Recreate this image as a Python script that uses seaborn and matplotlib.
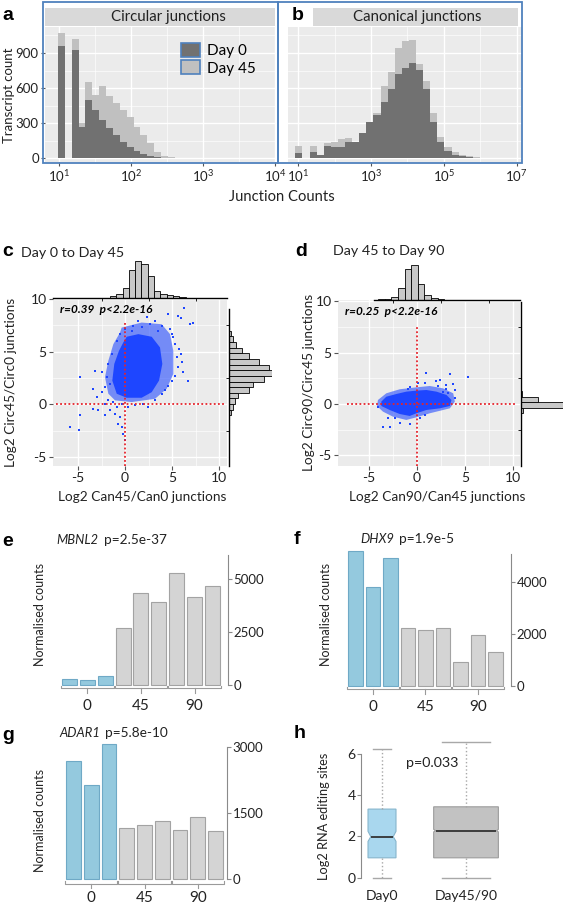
import numpy as np
import pandas as pd
import seaborn as sns
import matplotlib.pyplot as plt
from matplotlib.patches import Patch, Rectangle
from matplotlib.path import Path
from matplotlib.ticker import FixedLocator, NullFormatter

# ---------------- data ----------------
# a / b : junction count histograms (bins in log10 space)
circ_edge0, circ_binw = 0.99, 0.0953
circ_day0 = [960, 0, 925, 271, 499, 414, 328, 263, 200, 143, 101, 64, 36, 21, 10, 0, 0]
circ_day45 = [1068, 0, 1019, 305, 650, 542, 618, 536, 471, 414, 357, 271, 200, 130, 58, 24, 10]

canon_edge0, canon_binw = 0.92, 0.195
canon_day0 = [43, 0, 56, 28, 107, 99, 99, 142, 140, 214, 308, 375, 478, 597, 725, 773, 819,
              753, 597, 312, 142, 65, 34, 22, 11, 4, 1]
canon_day45 = [107, 0, 107, 34, 128, 142, 165, 171, 142, 218, 312, 392, 617, 734, 943, 1000,
               1009, 810, 659, 392, 184, 99, 56, 34, 20, 11, 4]

# c : Day 0 -> Day 45 scatter (dense core outline, halo outline, sparse points)
c_core_x = [0.18, 1.42, 2.84, 3.72, 3.97, 3.62, 2.84, 1.77, 0.18, -0.88, -1.35, -1.14, -0.64, -0.18]
c_core_y = [6.42, 6.67, 6.42, 5.41, 3.84, 2.26, 1.16, 0.63, 0.63, 1.01, 2.26, 3.84, 5.09, 5.88]
c_halo_x = [-0.36, 1.77, 3.90, 4.79, 5.14, 5.14, 4.43, 3.19, 0.71, -1.06, -1.77, -2.13, -1.77, -1.24, -0.53]
c_halo_y = [7.29, 7.77, 7.61, 6.67, 5.09, 2.89, 1.48, 0.53, 0.22, 0.38, 1.01, 2.58, 4.15, 5.72, 6.82]
c_pts_x = [6.31, 5.67, 5.96, 6.91, 7.23, 4.61, 3.19, 2.66, 1.84, 0.89, 0.71, 3.90, 4.79, 4.96, 3.55,
           5.14, 5.32, 5.74, 5.96, 5.50, 6.03, 5.67, 6.20, 5.32, 6.74, 4.96, 4.61, 4.26, 3.90, 3.19,
           2.48, 1.95, 1.06, 0.35, -0.36, -1.24, -1.77, -2.13, -2.48, -3.37, -3.02, -3.37, -2.84,
           -4.79, -4.79, -5.85, -4.89, -1.06, -0.53, -0.71, -0.36, -0.18, 0.0, -1.60, -2.13, -0.89,
           -3.19, -2.48, -1.95, -1.77, -1.60, -2.13, -1.42, -0.89, -0.53, 0.0, 1.42, 2.31]
c_pts_y = [9.12, 8.39, 8.17, 7.61, 7.77, 8.55, 7.92, 7.61, 7.36, 7.45, 6.98, 7.45, 7.14, 6.67, 6.98,
           6.35, 5.72, 5.25, 4.78, 4.46, 3.99, 3.52, 3.05, 2.73, 2.26, 2.26, 1.79, 1.32, 1.01, 0.38,
           -0.25, 0.06, -0.10, -0.25, 0.06, 0.22, 0.38, 0.06, 1.16, 1.48, 0.69, -0.41, -0.57,
           -1.04, 2.64, -2.14, -2.45, -0.88, -1.20, -1.82, -2.14, -2.77, -3.40, -0.57, -1.04, -0.25,
           3.21, 3.05, 2.58, 3.84, 1.95, 1.63, 4.78, 6.04, 6.67, 7.14, 7.92, 8.30]
c_top_edge0, c_top_binw = -1.6, 0.67
c_top_counts = [50, 130, 300, 830, 1100, 1000, 650, 200, 130, 100, 60, 30]
c_right_edge0, c_right_binw = -1.04, 0.535
c_right_counts = [50, 120, 170, 270, 600, 720, 1020, 1270, 1170, 900, 600, 370, 200, 120, 50]

# d : Day 45 -> Day 90 scatter
d_core_x = [-3.68, -3.16, -2.12, -1.08, -0.03, 1.01, 2.05, 3.09, 3.61, 3.44, 2.40, 1.01, -0.03,
            -0.73, -1.77, -2.81, -3.68]
d_core_y = [0.23, 0.71, 0.97, 1.20, 1.30, 1.36, 1.20, 0.88, 0.39, -0.19, -0.42, -0.58, -0.90,
            -1.16, -0.97, -0.58, -0.19]
d_halo_x = [-4.03, -3.16, -1.77, -0.03, 1.36, 2.74, 3.79, 3.96, 3.44, 1.36, -0.03, -1.08, -2.47, -3.51, -4.13]
d_halo_y = [0.39, 1.04, 1.43, 1.62, 1.75, 1.52, 1.04, 0.23, -0.42, -0.90, -1.29, -1.55, -1.23, -0.74, -0.19]
d_pts_x = [1.01, 3.44, 5.35, 2.40, 2.05, 3.79, 3.09, 2.22, 0.83, 0.14, -0.73, -0.90, 3.09, 3.96,
           2.74, -3.51, -2.81, -1.77, -0.73, -2.99, -2.29, -4.03, 3.96, 0.31, 0.83, 3.26]
d_pts_y = [3.05, 2.92, 2.66, 2.33, 2.27, 1.91, 1.85, 1.75, 2.07, 2.01, 1.62, 1.43, 1.43, 1.36,
           1.20, -2.20, -2.20, -1.87, -1.94, -1.39, -1.39, -0.26, 0.55, -1.39, -1.07, 1.07]
d_top_edge0, d_top_binw = -4.03, 0.69
d_top_counts = [20, 40, 80, 340, 880, 1000, 470, 140, 50, 20, 10, 5]
d_right_edge0, d_right_binw = -0.91, 0.54
d_right_counts = [50, 1000, 410, 25]

# e / f / g : normalised counts per sample
day_levels = ['0', '45', '90']
sample_day = ['0'] * 3 + ['45'] * 3 + ['90'] * 3
sample_ids = [f'{d}_{i}' for d, i in zip(sample_day, [1, 2, 3] * 3)]
mbnl2 = [283, 236, 424, 2690, 4340, 3915, 5280, 4150, 4670]
dhx9 = [5190, 3810, 4920, 2230, 2150, 2230, 935, 1960, 1310]
adar1 = [2680, 2140, 3070, 1160, 1230, 1320, 1110, 1410, 1090]

# h : RNA editing sites box summaries
h_groups = ['Day0', 'Day45/90']
h_whislo = [0.0, 0.0]
h_q1 = [0.97, 0.97]
h_med = [1.99, 2.28]
h_q3 = [3.32, 3.43]
h_whishi = [6.2, 6.55]
h_cilo = [1.76, 2.22]
h_cihi = [2.25, 2.34]

# ---------------- style ----------------
plt.rcParams['font.family'] = ['Lato', 'DejaVu Sans']
plt.rcParams['axes.unicode_minus'] = False
W, H = 567, 907
fig = plt.figure(figsize=(W / 100, H / 100), dpi=100)

dark_col, light_col = '#717171', '#c0c0c0'
frame_blue = '#4f81bd'
pt_blue = '#1e46ff'
red = '#e5232b'
bar_blue, bar_grey = '#87ceeb', '#d4d4d4'
txt = '#222222'


def rect(l, t, r, b):
    return [l / W, 1 - b / H, (r - l) / W, (b - t) / H]


def ftext(x, y, s, **kw):
    kw.setdefault('color', txt)
    return fig.text(x / W, 1 - y / H, s, **kw)


def edges_from(start, width, n):
    return np.round(start + width * np.arange(n + 1), 4)


def ggplot_bg(ax):
    ax.set_facecolor('#ebebeb')
    ax.set_axisbelow(True)
    ax.grid(which='major', color='white', lw=1.0)
    ax.grid(which='minor', color='white', lw=0.45)
    for s in ax.spines.values():
        s.set_visible(False)
    ax.tick_params(which='minor', length=0)
    ax.tick_params(which='major', length=3, color='#555555', labelsize=9.5, labelcolor=txt, pad=1.5)


# ---------------- a / b ----------------
def junction_hist(ax, start, width, light, dark, xlim):
    e = edges_from(start, width, len(light))
    df = pd.DataFrame({'junctions': 10 ** ((e[:-1] + e[1:]) / 2), 'light': light, 'dark': dark})
    sns.histplot(data=df, x='junctions', weights='light', bins=e.tolist(), log_scale=True,
                 color=light_col, alpha=1, linewidth=0, ax=ax)
    sns.histplot(data=df, x='junctions', weights='dark', bins=e.tolist(), log_scale=True,
                 color=dark_col, alpha=1, linewidth=0, ax=ax)
    ggplot_bg(ax)
    ax.set_xlim(10 ** xlim[0], 10 ** xlim[1])
    ax.set_ylim(-30, 1122)
    ax.set_yticks([0, 300, 600, 900])
    ax.yaxis.set_minor_locator(FixedLocator([150, 450, 750, 1050]))
    ax.set_xlabel('')
    ax.set_ylabel('')


ax_a = fig.add_axes(rect(45, 27, 275, 162))
junction_hist(ax_a, circ_edge0, circ_binw, circ_day45, circ_day0, (0.81, 3.99))
ax_a.set_xticks([1e1, 1e2, 1e3, 1e4])
ax_a.xaxis.set_minor_locator(FixedLocator(10 ** np.array([1.5, 2.5, 3.5])))
ax_a.xaxis.set_minor_formatter(NullFormatter())
ax_a.legend(handles=[Patch(facecolor=dark_col, edgecolor=frame_blue, lw=1.2, label='Day 0'),
                     Patch(facecolor=light_col, edgecolor=frame_blue, lw=1.2, label='Day 45')],
            loc='upper left', bbox_to_anchor=(0.56, 0.94), frameon=False, fontsize=11,
            handlelength=1.2, handleheight=1.05, labelspacing=0.15, handletextpad=0.5,
            borderpad=0)

ax_b = fig.add_axes(rect(288, 27, 522, 162))
junction_hist(ax_b, canon_edge0, canon_binw, canon_day45, canon_day0, (0.717, 7.146))
ax_b.set_xticks([1e1, 1e3, 1e5, 1e7])
ax_b.xaxis.set_minor_locator(FixedLocator([1e2, 1e4, 1e6]))
ax_b.xaxis.set_minor_formatter(NullFormatter())
ax_b.tick_params(axis='y', left=False, labelleft=False)

for (l, r, lab, cx) in [(45, 275, 'Circular junctions', 168), (313, 518, 'Canonical junctions', 417)]:
    sax = fig.add_axes(rect(l, 8, r, 26))
    sax.set_facecolor('#d9d9d9')
    sax.set_xticks([])
    sax.set_yticks([])
    for s in sax.spines.values():
        s.set_visible(False)
    ftext(cx, 17, lab, ha='center', va='center', fontsize=10.8)

fig.add_artist(Rectangle((43 / W, 1 - 163 / H), 235 / W, 161 / H, transform=fig.transFigure,
                         fill=False, edgecolor=frame_blue, lw=1.3))
fig.add_artist(Rectangle((278 / W, 1 - 163 / H), 244 / W, 161 / H, transform=fig.transFigure,
                         fill=False, edgecolor=frame_blue, lw=1.3))
ftext(282, 197, 'Junction Counts', ha='center', va='center', fontsize=10.6)
ftext(9, 95, 'Transcript count', ha='center', va='center', rotation=90, fontsize=9.5)
ftext(2, 15, 'a', fontsize=14, weight='bold', va='center', family='Liberation Sans', color='black')
ftext(292, 15, 'b', fontsize=14, weight='bold', va='center', family='Liberation Sans', color='black',
      bbox=dict(facecolor='white', edgecolor='none', pad=1))


# ---------------- c / d ----------------
def scatter_panel(main_px, top_px, right_px, xlim, ylim, core, halo, pts, top, right,
                  vline_top, hline_x, right_spine_top, top_bounds, rtext):
    ax = fig.add_axes(rect(*main_px))
    ax.fill(halo[0], halo[1], color=pt_blue, alpha=0.58, lw=0, zorder=2)
    ax.fill(core[0], core[1], color=pt_blue, lw=0, zorder=3)
    sns.scatterplot(x=pts[0], y=pts[1], marker='s', s=2.2, color=pt_blue, linewidth=0, ax=ax, zorder=3)
    ax.vlines(0, ylim[0], vline_top, colors=red, linestyles=(0, (1, 1.3)), lw=1.3, zorder=4)
    ax.hlines(0, hline_x[0], hline_x[1], colors=red, linestyles=(0, (1, 1.3)), lw=1.3, zorder=4)
    ggplot_bg(ax)
    ax.set_xticks([-5, 0, 5, 10])
    ax.set_yticks([-5, 0, 5, 10])
    ax.xaxis.set_minor_locator(FixedLocator([-2.5, 2.5, 7.5]))
    ax.yaxis.set_minor_locator(FixedLocator([-2.5, 2.5, 7.5]))
    ax.tick_params(labelsize=10)
    ax.text(0.04, 0.93, rtext, transform=ax.transAxes, fontsize=8.5, weight='bold',
            style='italic', va='center', color='black')

    e = edges_from(top[0], top[1], len(top[2]))
    axt = fig.add_axes(rect(*top_px), sharex=ax)
    sns.histplot(x=(e[:-1] + e[1:]) / 2, weights=top[2], bins=e.tolist(), color='#c8c8c8',
                 edgecolor='black', linewidth=0.6, alpha=1, ax=axt)
    axt.set_ylim(0, max(top[2]))
    e = edges_from(right[0], right[1], len(right[2]))
    axr = fig.add_axes(rect(*right_px), sharey=ax)
    sns.histplot(y=(e[:-1] + e[1:]) / 2, weights=right[2], bins=e.tolist(), color='#c8c8c8',
                 edgecolor='black', linewidth=0.6, alpha=1, ax=axr)
    axr.set_xlim(0, max(right[2]))
    for m in (axt, axr):
        m.set_facecolor('none')
        m.set_xlabel('')
        m.set_ylabel('')
        m.tick_params(left=False, bottom=False, labelleft=False, labelbottom=False)
        for s in m.spines.values():
            s.set_visible(False)
    axt.spines['bottom'].set_visible(True)
    axt.spines['bottom'].set_linewidth(1.0)
    axt.spines['bottom'].set_bounds(*top_bounds)
    axr.spines['left'].set_visible(True)
    axr.spines['left'].set_linewidth(1.0)
    axr.spines['left'].set_bounds(ylim[0], right_spine_top)
    ax.set_xlim(*xlim)
    ax.set_ylim(*ylim)
    return ax


scatter_panel((53, 298, 227, 466), (53, 261, 227, 298), (229, 298, 272, 466),
              (-7.66, 10.85), (-5.85, 10.1), (c_core_x, c_core_y), (c_halo_x, c_halo_y),
              (c_pts_x, c_pts_y), (c_top_edge0, c_top_binw, c_top_counts),
              (c_right_edge0, c_right_binw, c_right_counts), 7.9, (-7.3, 10.5), 9.06,
              (-7.66, 10.85), 'r=0.39  p<2.2e-16')
scatter_panel((338, 300, 520, 466), (338, 265, 520, 300), (521, 300, 563, 466),
              (-8.18, 10.73), (-6.02, 10.1), (d_core_x, d_core_y), (d_halo_x, d_halo_y),
              (d_pts_x, d_pts_y), (d_top_edge0, d_top_binw, d_top_counts),
              (d_right_edge0, d_right_binw, d_right_counts), 7.7, (-7.2, 10.4), 9.9,
              (-4.4, 10.73), 'r=0.25  p<2.2e-16')

ftext(2, 252, 'c', fontsize=14, weight='bold', va='center', family='Liberation Sans', color='black')
ftext(21, 253, 'Day 0 to Day 45', fontsize=10.3, va='center')
ftext(295, 251, 'd', fontsize=14, weight='bold', va='center', family='Liberation Sans', color='black')
ftext(333, 251, 'Day 45 to Day 90', fontsize=10.3, va='center')
ftext(142, 497, 'Log2 Can45/Can0 junctions', ha='center', va='center', fontsize=9.8)
ftext(437, 497, 'Log2 Can90/Can45 junctions', ha='center', va='center', fontsize=9.8)
ftext(11, 382, 'Log2 Circ45/Circ0 junctions', ha='center', va='center', rotation=90, fontsize=9.8)
ftext(309, 382, 'Log2 Circ90/Circ45 junctions', ha='center', va='center', rotation=90, fontsize=9.8)


# ---------------- e / f / g ----------------
def bar_panel(px, vals, ylim, yticks, xlim, gene, pval, gene_xy, letter_xy, ylab_xy,
              bracket_y, label_y):
    ax = fig.add_axes(rect(*px))
    df = pd.DataFrame({'sample': sample_ids, 'day': sample_day, 'count': vals})
    sns.barplot(data=df, x='sample', y='count', hue='day', order=sample_ids,
                palette={'0': bar_blue, '45': bar_grey, '90': bar_grey}, dodge=False,
                width=0.84, errorbar=None, legend=False, linewidth=0.8, ax=ax)
    for p in ax.patches:
        p.set_clip_on(False)
        fc = p.get_facecolor()
        p.set_edgecolor('#6fa9c6' if fc[2] > fc[0] + 0.05 else '#a3a3a3')
    ax.set_xlim(*xlim)
    ax.set_ylim(*ylim)
    ax.set_yticks(yticks)
    ax.yaxis.tick_right()
    for s in ['left', 'top', 'bottom']:
        ax.spines[s].set_visible(False)
    ax.spines['right'].set_color('#8a8a8a')
    ax.tick_params(axis='y', length=3, color='#8a8a8a', labelsize=9.5, labelcolor=txt, pad=1)
    ax.tick_params(axis='x', bottom=False, labelbottom=False)
    ax.set_xlabel('')
    ax.set_ylabel('')
    tr = ax.get_xaxis_transform()
    for g, lab in enumerate(day_levels):
        a, b = 3 * g - 0.47, 3 * g + 2.47
        ax.plot([a, a, b, b], [bracket_y + 0.02, bracket_y, bracket_y, bracket_y + 0.02],
                transform=tr, color='#9a9a9a', lw=0.8, clip_on=False)
        ax.plot([3 * g + 1, 3 * g + 1], [bracket_y, bracket_y - 0.035], transform=tr,
                color='#9a9a9a', lw=0.8, clip_on=False)
        ax.text(3 * g + 1, label_y, lab, transform=tr, ha='center', va='center',
                fontsize=11, color=txt)
    gt = ftext(*gene_xy, gene, style='italic', fontsize=9.4, va='center')
    ax.annotate(pval, xy=(1, 0.5), xycoords=gt, xytext=(4, 0), textcoords='offset points',
                fontsize=9.8, va='center', color=txt)
    ftext(*letter_xy[:2], letter_xy[2], fontsize=14, weight='bold', va='center',
          family='Liberation Sans', color='black')
    ftext(*ylab_xy, 'Normalised counts', rotation=90, ha='center', va='center', fontsize=9)


bar_panel((58, 555, 228, 685), mbnl2, (0, 6130), [0, 2500, 5000], (-0.64, 8.87),
          'MBNL2', 'p=2.5e-37', (56, 540), (2, 541, 'e'), (40, 615), -0.025, -0.16)
bar_panel((344, 554, 511, 686), dhx9, (0, 5080), [0, 2000, 4000], (-0.66, 8.89),
          'DHX9', 'p=1.9e-5', (360, 539), (294, 540, 'f'), (326, 615), -0.025, -0.16)
bar_panel((62, 747, 227, 879), adar1, (0, 3000), [0, 1500, 3000], (-0.65, 8.65),
          'ADAR1', 'p=5.8e-10', (59, 733), (2, 736, 'g'), (40, 820), -0.035, -0.145)

# ---------------- h ----------------
ax_h = fig.add_axes(rect(361, 739, 515, 880))
h_pos = [0, 1]
h_width = [0.333, 0.77]
stats = [dict(label=g, whislo=wl, q1=a, med=m, q3=b, whishi=wh, cilo=cl, cihi=ch, fliers=[])
         for g, wl, a, m, b, wh, cl, ch in zip(h_groups, h_whislo, h_q1, h_med, h_q3,
                                                 h_whishi, h_cilo, h_cihi)]
bp = ax_h.bxp(stats, positions=h_pos, widths=h_width, shownotches=True, patch_artist=True,
              showfliers=False, capwidths=[0.22, 0.56],
              whiskerprops=dict(color='#a8a8a8', ls=':', lw=1.0),
              capprops=dict(color='#a8a8a8', lw=1.0),
              medianprops=dict(color='#333333', lw=1.3),
              boxprops=dict(lw=0.8))
notch_inset = [0.1, 0.03]
for patch, med, pos, w, ins, fc, ec in zip(bp['boxes'], bp['medians'], h_pos, h_width,
                                           notch_inset, ['#a9d7ee', '#c2c2c2'],
                                           ['#86b5cc', '#9c9c9c']):
    v = patch.get_path().vertices.copy()
    v[3, 0] = pos + w * (0.5 - ins)
    v[8, 0] = pos - w * (0.5 - ins)
    patch.set_path(Path(v, patch.get_path().codes))
    patch.set_facecolor(fc)
    patch.set_edgecolor(ec)
    med.set_xdata([pos - w * (0.5 - ins), pos + w * (0.5 - ins)])
for art in bp['whiskers'] + bp['caps'] + bp['boxes'] + bp['medians']:
    art.set_clip_on(False)
ax_h.set_xlim(-0.25, 1.583)
ax_h.set_ylim(-0.1, 6.7)
ax_h.set_yticks([0, 2, 4, 6])
ax_h.set_xticks(h_pos, h_groups)
for s in ['right', 'top', 'bottom']:
    ax_h.spines[s].set_visible(False)
ax_h.spines['left'].set_bounds(0, 6)
ax_h.spines['left'].set_color('#8a8a8a')
ax_h.tick_params(axis='y', length=3, color='#8a8a8a', labelsize=10, labelcolor=txt, pad=1)
ax_h.tick_params(axis='x', length=0, labelsize=10, labelcolor=txt, pad=7)
ftext(406, 763, 'p=0.033', fontsize=10.3, va='center')
ftext(324, 816, 'Log2 RNA editing sites', rotation=90, ha='center', va='center', fontsize=9.2)
ftext(294, 733, 'h', fontsize=14, weight='bold', va='center', family='Liberation Sans', color='black')

fig.savefig('out.png', dpi=100)
